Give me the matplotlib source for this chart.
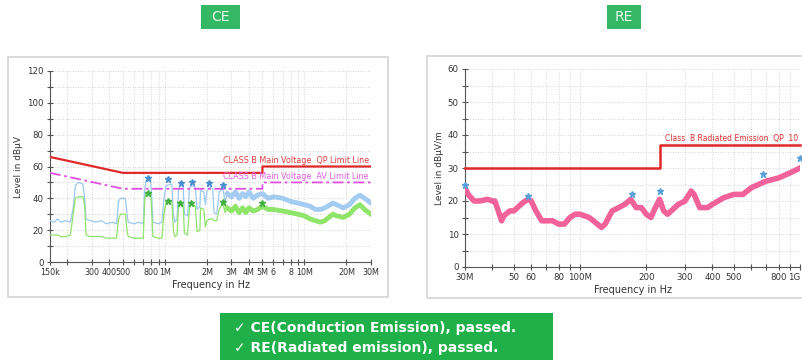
import numpy as np
import matplotlib.pyplot as plt
from matplotlib.patches import Rectangle
from matplotlib.ticker import FixedLocator, NullFormatter, MultipleLocator

# ---- CE (conducted emission) data ----
ce_f = [150e3, 160e3, 170e3, 180e3, 195e3, 210e3, 220e3, 228e3, 240e3, 258e3, 266e3, 272e3,
        290e3, 320e3, 350e3, 380e3, 420e3, 450e3, 465e3, 480e3, 520e3, 535e3, 545e3, 600e3,
        650e3, 700e3, 715e3, 730e3, 790e3, 805e3, 820e3, 900e3, 950e3, 985e3, 1.02e6, 1.12e6,
        1.15e6, 1.18e6, 1.22e6, 1.25e6, 1.28e6, 1.35e6, 1.38e6, 1.45e6, 1.5e6, 1.55e6, 1.65e6,
        1.7e6, 1.78e6, 1.8e6, 1.9e6, 1.95e6, 2.0e6, 2.1e6, 2.2e6, 2.25e6, 2.35e6, 2.45e6, 2.6e6,
        2.7e6, 2.8e6, 3.0e6, 3.2e6, 3.4e6, 3.6e6, 3.8e6, 4.0e6, 4.3e6, 4.6e6, 5.0e6, 5.5e6,
        6e6, 7e6, 8e6, 9e6, 10e6, 11e6, 12e6, 13e6, 14e6, 16e6, 17e6, 19e6, 21e6, 23e6, 25e6,
        27e6, 30e6]
ce_qp = [26, 25, 27, 25, 26, 25, 34, 48, 50, 49, 40, 27,
         26, 25, 26, 24, 25, 24, 38, 40, 40, 30, 25, 24,
         25, 24, 45, 51, 51, 40, 25, 24, 25, 40, 48, 49,
         30, 25, 27, 45, 48, 48, 30, 29, 46, 48, 47,
         33, 35, 45, 44, 36, 45, 47, 46, 31, 30, 44, 46,
         38, 43, 41, 44, 40, 43, 41, 44, 40, 42, 43, 40,
         41, 40, 38, 37, 36, 35, 33, 33, 34, 37, 36, 34, 36, 40, 42,
         40, 37]
ce_av = [17, 17, 17, 16, 16, 17, 30, 40, 41, 41, 35, 17,
         16, 16, 16, 15, 15, 15, 27, 30, 30, 20, 16, 15,
         15, 15, 38, 43, 43, 30, 16, 15, 15, 30, 38, 38,
         20, 16, 17, 34, 37, 36, 18, 17, 34, 37, 35,
         19, 20, 34, 33, 22, 26, 27, 27, 26, 26, 33, 37,
         31, 34, 32, 35, 31, 34, 31, 34, 32, 33, 35, 33,
         33, 32, 31, 30, 29, 27, 26, 25, 26, 30, 29, 28, 30, 34, 36,
         33, 30]

ce_lim_f = [150e3, 500e3, 5e6, 5e6, 30e6]
ce_lim_qp = [66, 56, 56, 60, 60]
ce_lim_av = [56, 46, 46, 50, 50]

ce_pk_f = [752e3, 1.05e6, 1.30e6, 1.57e6, 2.08e6, 2.62e6]
ce_pk_qp = [52.9, 52, 49.8, 50.4, 49.8, 48.5]
ce_pk_av_f = [752e3, 1.05e6, 1.28e6, 1.55e6, 2.6e6, 5.0e6]
ce_pk_av = [43.5, 38.5, 36.8, 37.2, 37.4, 37.2]

ce_ticks = [150e3, 200e3, 300e3, 400e3, 500e3, 600e3, 700e3, 800e3, 900e3, 1e6, 2e6, 3e6,
            4e6, 5e6, 6e6, 7e6, 8e6, 9e6, 10e6, 20e6, 30e6]
ce_tick_lbl = {150e3: '150k', 300e3: '300', 400e3: '400', 500e3: '500', 800e3: '800',
               1e6: '1M', 2e6: '2M', 3e6: '3M', 4e6: '4M', 5e6: '5M', 6e6: '6', 8e6: '8',
               10e6: '10M', 20e6: '20M', 30e6: '30M'}

# ---- RE (radiated emission) data ----
re_f = [30, 31, 33, 35, 38, 40, 41, 43, 44, 45, 48, 50, 55, 58, 60, 63, 67, 70, 75, 80, 85,
        90, 95, 100, 110, 115, 125, 130, 140, 150, 160, 170, 180, 190, 200, 210, 220, 230, 240,
        250, 260, 280, 300, 320, 330, 350, 380, 400, 450, 500, 550, 600, 700, 800, 900, 1000]
re_lvl = [24, 22, 20, 20, 20.5, 20, 20, 16, 14, 15.5, 17, 17, 19.5, 20.5, 20, 17, 14, 14, 14,
          13, 13, 15, 16, 16, 15, 14, 12, 13, 17, 18, 19, 20.5, 18, 18, 16, 15, 18, 20.5, 17,
          16, 17, 19, 20, 23, 22, 18, 18, 19, 21, 22, 22, 24, 26, 27, 28.5, 30]
re_lim_f = [30, 230, 230, 1000]
re_lim = [30, 30, 37, 37]
re_pk_f = [30, 58, 172, 230, 680, 1000]
re_pk = [25, 21.5, 22, 23.1, 28.3, 32.9]

re_ticks = [30, 40, 50, 60, 70, 80, 90, 100, 200, 300, 400, 500, 600, 700, 800, 900, 1000]
re_tick_lbl = {30: '30M', 50: '50', 60: '60', 80: '80', 100: '100M', 200: '200', 300: '300',
               400: '400', 500: '500', 800: '800', 1000: '1G'}

W, H = 802, 360
fig = plt.figure(figsize=(W / 100, H / 100), dpi=100)
fig.patch.set_facecolor('white')


def fx(px):
    return px / W


def fy(py):
    return 1 - py / H


def style_axes(ax, ticks, labels, xsize):
    for s in ['top', 'right']:
        ax.spines[s].set_visible(False)
    for s in ['left', 'bottom']:
        ax.spines[s].set_color('#555555')
        ax.spines[s].set_linewidth(0.8)
    ax.set_xscale('log')
    ax.xaxis.set_major_locator(FixedLocator(ticks))
    ax.xaxis.set_minor_locator(FixedLocator([]))
    ax.xaxis.set_minor_formatter(NullFormatter())
    ax.set_xticklabels([labels.get(t, '') for t in ticks])
    ax.tick_params(axis='both', which='both', direction='inout', colors='#555555',
                   labelcolor='#333333', labelsize=6.2, length=5, width=0.8, pad=2)
    ax.tick_params(axis='x', labelsize=xsize)
    ax.tick_params(axis='y', which='minor', length=4)
    ax.grid(True, which='both', linestyle=(0, (1, 2)), color='#c8c8c8', linewidth=0.6)
    ax.set_axisbelow(True)
    ax.set_xlabel('Frequency in Hz', fontsize=7, color='#333333', labelpad=2)


# frames around the two screenshot panels
fig.patches.append(Rectangle((fx(8), fy(297)), fx(380), 240 / H, transform=fig.transFigure,
                             fill=False, edgecolor='#d4d4d4', linewidth=1.2))
fig.patches.append(Rectangle((fx(427), fy(298)), fx(390), 242 / H, transform=fig.transFigure,
                             fill=False, edgecolor='#d4d4d4', linewidth=1.2))

# ---- CE chart ----
ax1 = fig.add_axes([fx(50), fy(262), fx(321), 191 / H])
ax1.set_xlim(150e3, 30e6)
ax1.set_ylim(0, 120)
ax1.yaxis.set_major_locator(MultipleLocator(20))
ax1.yaxis.set_minor_locator(MultipleLocator(10))
style_axes(ax1, ce_ticks, ce_tick_lbl, 5.8)
ax1.set_ylabel('Level in dBµV', fontsize=6.5, color='#333333', labelpad=3)

f1 = np.array(ce_f)
qp1 = np.array(ce_qp)
av1 = np.array(ce_av)
hi = f1 >= 2.8e6
ax1.plot(f1, qp1, color='#9cc8f0', lw=0.9, zorder=3)
ax1.plot(f1[hi], qp1[hi], color='#a4ccf2', lw=3.5, zorder=3, solid_joinstyle='round')
ax1.plot(f1, av1, color='#8fe46a', lw=0.9, zorder=4)
ax1.plot(f1[hi], av1[hi], color='#8fe46a', lw=3.5, zorder=4, solid_joinstyle='round')
ax1.plot(ce_lim_f, ce_lim_qp, color='#e02828', lw=1.6, zorder=5)
ax1.plot(ce_lim_f, ce_lim_av, color='#e050e0', lw=1.3, ls=(0, (6, 2, 1.5, 2)), zorder=5)
ax1.plot(ce_pk_f, ce_pk_qp, ls='none', marker='*', ms=4.5, color='#4a90d0', zorder=6)
ax1.plot(ce_pk_av_f, ce_pk_av, ls='none', marker='*', ms=4.5, color='#40b040', zorder=6)
ax1.text(29e6, 61, 'CLASS B Main Voltage  QP Limit Line', color='#e04040', fontsize=5.8,
         ha='right', va='bottom', zorder=7)
ax1.text(29e6, 51, 'CLASS B Main Voltage  AV Limit Line', color='#e060e0', fontsize=5.8,
         ha='right', va='bottom', zorder=7)

# ---- RE chart ----
ax2 = fig.add_axes([fx(465), fy(267), fx(335), 198 / H])
ax2.set_xlim(30, 1000)
ax2.set_ylim(0, 60)
ax2.yaxis.set_major_locator(MultipleLocator(10))
ax2.yaxis.set_minor_locator(MultipleLocator(5))
style_axes(ax2, re_ticks, re_tick_lbl, 6.2)
ax2.get_xticklabels()[-1].set_horizontalalignment('right')
ax2.set_ylabel('Level in dBµV/m', fontsize=6.5, color='#333333', labelpad=3)
ax2.plot(re_f, re_lvl, color='#f2629a', lw=4.0, zorder=3, solid_joinstyle='round')
ax2.plot(re_lim_f, re_lim, color='#e02828', lw=1.8, zorder=5, clip_on=False)
ax2.plot(re_pk_f, re_pk, ls='none', marker='*', ms=4.5, color='#5aa0d8', zorder=6, clip_on=False)
ax2.text(985, 37.6, 'Class  B Radiated Emission  QP  10', color='#e03030', fontsize=5.5,
         ha='right', va='bottom', zorder=7)

# ---- green labels ----
fig.patches.append(Rectangle((fx(201), fy(29)), fx(39), 24 / H, transform=fig.transFigure,
                             facecolor='#34b864', edgecolor='none'))
fig.text(fx(220.5), fy(17), 'CE', color='#eaf7ee', fontsize=10, ha='center', va='center')
fig.patches.append(Rectangle((fx(607), fy(29)), fx(34), 24 / H, transform=fig.transFigure,
                             facecolor='#34b864', edgecolor='none'))
fig.text(fx(624), fy(17), 'RE', color='#eaf7ee', fontsize=10, ha='center', va='center')

fig.patches.append(Rectangle((fx(220), 0), fx(333), 47 / H, transform=fig.transFigure,
                             facecolor='#1fb04a', edgecolor='none'))
fig.text(fx(234), fy(328), '✓ CE(Conduction Emission), passed.', color='white', fontsize=10,
         fontweight='bold', ha='left', va='center')
fig.text(fx(234), fy(348), '✓ RE(Radiated emission), passed.', color='white', fontsize=10,
         fontweight='bold', ha='left', va='center')

fig.savefig('out.png', dpi=100)
